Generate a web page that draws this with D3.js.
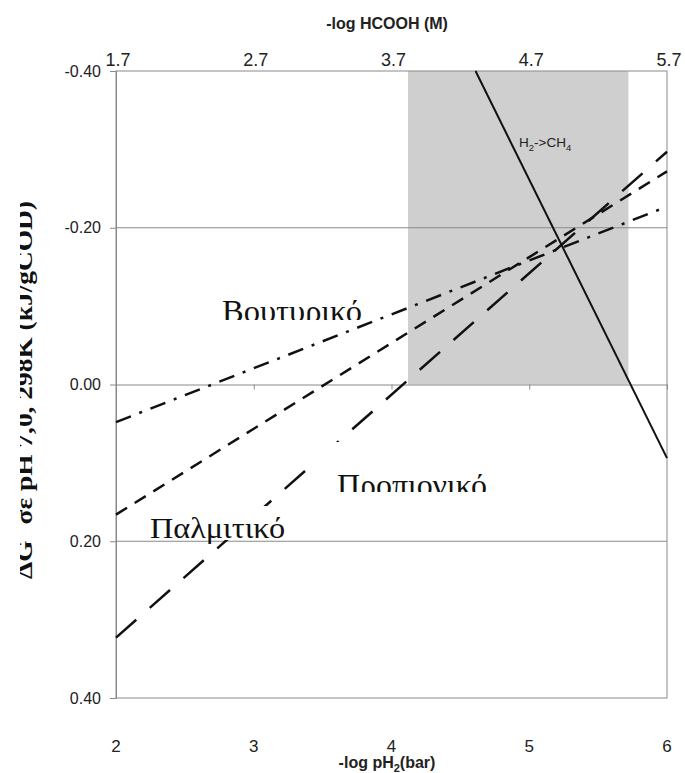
<!DOCTYPE html>
<html><head><meta charset="utf-8">
<script src="https://cdn.jsdelivr.net/npm/d3@7"></script>
<style>body{margin:0;background:#fff}svg{display:block}</style>
</head><body><svg id="c" width="685" height="773"></svg>
<script>
// ---- data ----
const xTicks = [2, 3, 4, 5, 6];
const topTicks = [1.7, 2.7, 3.7, 4.7, 5.7];
const yTicks = [-0.40, -0.20, 0.00, 0.20, 0.40];
const lineX = [2, 6];
const butyricY = [0.048, -0.227];     // dash-dot
const palmiticY = [0.166, -0.272];    // short dash
const propionicY = [0.323, -0.297];   // long dash
const methX = [4.61, 6];
const methY = [-0.40, 0.094];
const shadeX = [4.12, 5.72];
const shadeY = [-0.40, 0.00];

const svg = d3.select("#c");
const x = d3.scaleLinear().domain([2, 6]).range([116, 667]);
const xTop = d3.scaleLinear().domain([1.7, 5.7]).range([116, 667]);
const y = d3.scaleLinear().domain([-0.4, 0.4]).range([71, 698]);
const fmt = d => d3.format(".2f")(d).replace("\u2212", "-");
const sans = "Arial, 'Liberation Sans', sans-serif";
const serif = "'Times New Roman', 'Liberation Serif', serif";

// shaded region
svg.append("rect")
  .attr("x", x(shadeX[0])).attr("y", y(shadeY[0]))
  .attr("width", x(shadeX[1]) - x(shadeX[0]))
  .attr("height", y(shadeY[1]) - y(shadeY[0]))
  .attr("fill", "#cfcfcf");

// grid lines
svg.append("g").selectAll("line").data([-0.2, 0.2]).join("line")
  .attr("x1", 116).attr("x2", 667)
  .attr("y1", d => y(d)).attr("y2", d => y(d))
  .attr("stroke", "#8a8a8a").attr("stroke-width", 1);

// plot border
svg.append("rect").attr("x", 116).attr("y", 71).attr("width", 551).attr("height", 627)
  .attr("fill", "none").attr("stroke", "#8a8a8a").attr("stroke-width", 1);

// left axis
const yAxis = svg.append("g").attr("transform", "translate(116,0)")
  .call(d3.axisLeft(y).tickValues(yTicks).tickFormat(fmt).tickSize(6).tickPadding(8));
yAxis.select(".domain").attr("stroke", "#8a8a8a");
yAxis.selectAll(".tick line").attr("stroke", "#8a8a8a");
yAxis.selectAll("text").attr("font-family", sans)
  .attr("font-size", 16).attr("fill", "#222").attr("dx", -1);

// x-axis along zero line (ticks only)
const xAxis = svg.append("g").attr("transform", `translate(0,${y(0)})`)
  .call(d3.axisBottom(x).tickValues(xTicks).tickFormat("").tickSize(5));
xAxis.select(".domain").attr("stroke", "#8a8a8a");
xAxis.selectAll(".tick line").attr("stroke", "#8a8a8a");

// bottom tick labels
svg.append("g").selectAll("text").data(xTicks).join("text")
  .attr("x", d => x(d)).attr("y", 752).attr("text-anchor", "middle")
  .attr("font-family", sans).attr("font-size", 17)
  .attr("fill", "#222").text(d => d);

// top tick labels
svg.append("g").selectAll("text").data(topTicks).join("text")
  .attr("x", d => xTop(d) + 2).attr("y", 66).attr("text-anchor", "middle")
  .attr("font-family", sans).attr("font-size", 18)
  .attr("fill", "#222").text(d => d.toFixed(1));

// titles
svg.append("text").attr("x", 387).attr("y", 29).attr("text-anchor", "middle")
  .attr("font-family", sans).attr("font-size", 16)
  .attr("font-weight", "bold").attr("fill", "#222").text("-log HCOOH (M)");
const bt = svg.append("text").attr("x", 387).attr("y", 768).attr("text-anchor", "middle")
  .attr("font-family", sans).attr("font-size", 16)
  .attr("font-weight", "bold").attr("fill", "#222");
bt.append("tspan").text("-log pH");
bt.append("tspan").attr("font-size", 11).attr("dy", 4).text("2");
bt.append("tspan").attr("dy", -4).text("(bar)");

// lines
const line = d3.line().x(d => x(d[0])).y(d => y(d[1]));
function drawLine(xs, ys, dash, w) {
  svg.append("path").datum(xs.map((v, i) => [v, ys[i]]))
    .attr("d", line).attr("fill", "none").attr("stroke", "#111")
    .attr("stroke-width", w).attr("stroke-dasharray", dash);
}
drawLine(lineX, butyricY, "16,9,3,9", 2.5);
drawLine(lineX, palmiticY, "13,9", 2.5);
drawLine(lineX, propionicY, "27,18", 2.5);
drawLine(methX, methY, null, 2);

// H2->CH4 label
const hl = svg.append("text").attr("x", 519).attr("y", 147)
  .attr("font-family", sans).attr("font-size", 13.5).attr("fill", "#222");
hl.append("tspan").text("H");
hl.append("tspan").attr("font-size", 9.5).attr("dy", 4).text("2");
hl.append("tspan").attr("dy", -4).text("->CH");
hl.append("tspan").attr("font-size", 9.5).attr("dy", 4).text("4");

// Greek labels with white boxes / clipping
const defs = svg.append("defs");
defs.append("clipPath").attr("id", "cb").append("rect").attr("x", 200).attr("y", 280).attr("width", 180).attr("height", 40);
defs.append("clipPath").attr("id", "cp").append("rect").attr("x", 317).attr("y", 442).attr("width", 200).attr("height", 50);

svg.append("text").attr("x", 222).attr("y", 322).attr("clip-path", "url(#cb)")
  .attr("font-family", serif).attr("font-size", 31)
  .attr("textLength", 140).attr("lengthAdjust", "spacingAndGlyphs")
  .attr("fill", "#111").text("Βουτυρικό");

svg.append("rect").attr("x", 317).attr("y", 442).attr("width", 185).attr("height", 50).attr("fill", "#fff");
svg.append("text").attr("x", 337).attr("y", 496).attr("clip-path", "url(#cp)")
  .attr("font-family", serif).attr("font-size", 31)
  .attr("textLength", 150).attr("lengthAdjust", "spacingAndGlyphs")
  .attr("fill", "#111").text("Προπιονικό");

svg.append("rect").attr("x", 150).attr("y", 506).attr("width", 142).attr("height", 34).attr("fill", "#fff");
svg.append("text").attr("x", 150).attr("y", 538)
  .attr("font-family", serif).attr("font-size", 30)
  .attr("textLength", 135).attr("lengthAdjust", "spacingAndGlyphs")
  .attr("fill", "#111").text("Παλμιτικό");

// y-axis label (rotated, partly clipped at left)
svg.append("text").attr("transform", "translate(32,390) rotate(-90)")
  .attr("text-anchor", "middle")
  .attr("font-family", serif).attr("font-size", 24)
  .attr("font-weight", "bold").attr("fill", "#111")
  .attr("textLength", 378).attr("lengthAdjust", "spacingAndGlyphs")
  .text("ΔG΄ σε pH 7,0, 298K (kJ/gCOD)");
svg.append("rect").attr("x", 0).attr("y", 150).attr("width", 20).attr("height", 480).attr("fill", "#fff");
</script>
</body></html>
